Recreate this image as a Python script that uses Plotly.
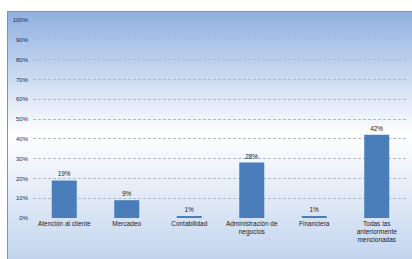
import plotly.graph_objects as go

categories = ["Atención al cliente", "Mercadeo", "Contabilidad",
              "Administración de<br>negocios", "Financiera",
              "Todas las<br>anteriormente<br>mencionadas"]
values = [0.19, 0.09, 0.01, 0.28, 0.01, 0.42]
data_labels = ["19%", "9%", "1%", "28%", "1%", "42%"]

W, H = 412, 259
# plot area in pixels
pl, pr, pt, pb = 33, 408, 20, 218
# chart frame in pixels
fl, fr, ft, fb = 7, 412, 11, 259

font = "Liberation Sans Narrow, Arial Narrow, Liberation Sans, Arial, sans-serif"

fig = go.Figure()

# background gradient (style only) on a full-figure helper axis pair
n = 124
y_edges = [ft + (fb - ft) * i / n for i in range(n + 1)]
z_grad = [[(i + 0.5) / n] for i in range(n)]
fig.add_trace(go.Heatmap(
    x=[fl, fr], y=y_edges, z=z_grad, xaxis="x", yaxis="y",
    colorscale=[[0, "#8fb0df"], [0.5, "#ffffff"], [1, "#c3d5ee"]],
    zmin=0, zmax=1, showscale=False, hoverinfo="skip",
))

fig.add_trace(go.Bar(
    x=categories, y=values, text=data_labels, textposition="outside",
    textfont=dict(size=6.5, color="#222222", family=font),
    marker=dict(color="#4a7ebb", line=dict(width=0)),
    cliponaxis=False, xaxis="x2", yaxis="y2",
))

fig.add_shape(type="rect", xref="paper", yref="paper",
              x0=(fl + 0.5) / W, x1=(fr + 3) / W,
              y0=-3 / H, y1=1 - (ft + 0.5) / H,
              line=dict(color="#8a8f99", width=1), fillcolor="rgba(0,0,0,0)",
              layer="above")

fig.update_layout(
    width=W, height=H,
    margin=dict(l=0, r=0, t=0, b=0, pad=0),
    paper_bgcolor="white", plot_bgcolor="rgba(0,0,0,0)",
    bargap=0.6, showlegend=False,
    font=dict(family=font, size=6.5, color="#222222"),
    xaxis=dict(domain=[0, 1], range=[0, W], visible=False, fixedrange=True),
    yaxis=dict(domain=[0, 1], range=[H, 0], visible=False, fixedrange=True),
    xaxis2=dict(domain=[pl / W, pr / W], anchor="y2", showgrid=False, showline=False,
                ticks="", automargin=False, tickangle=0,
                tickfont=dict(size=6.5, family=font, color="#222222")),
    yaxis2=dict(domain=[1 - pb / H, 1 - pt / H], anchor="x2", range=[0, 1], dtick=0.1,
                tickformat=".0%", automargin=False, showgrid=True, gridcolor="#b3bac6",
                griddash="3px,2px", gridwidth=1, zeroline=False, showline=False,
                ticks="", ticklabelstandoff=4,
                tickfont=dict(size=6, family=font, color="#1f2a44")),
)

post = "document.body.style.margin='0';document.body.style.overflow='hidden';"
fig.write_html("out.html", config={"displayModeBar": False}, post_script=post)
